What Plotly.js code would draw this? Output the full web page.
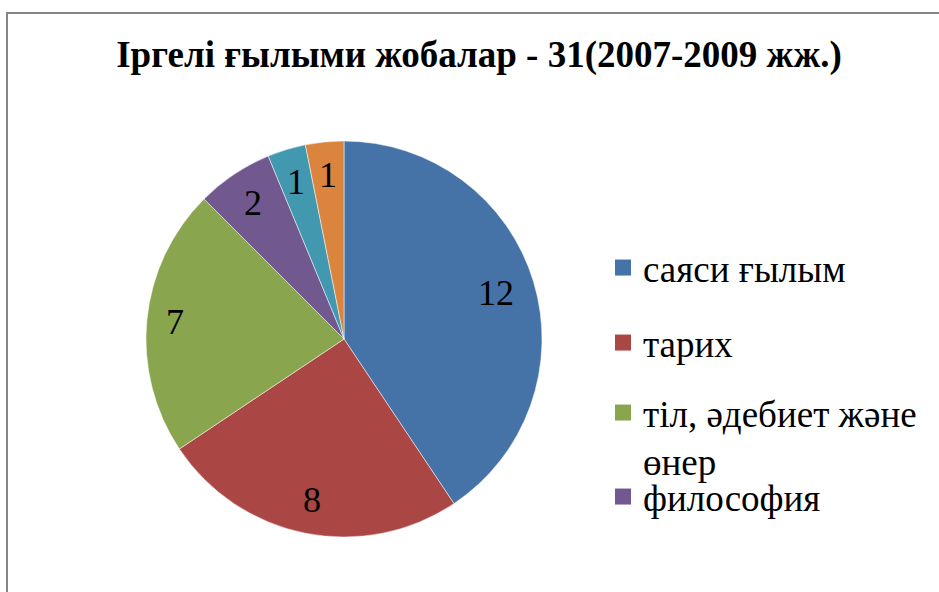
<!DOCTYPE html>
<html>
<head>
<meta charset="utf-8">
<script src="https://cdn.plot.ly/plotly-3.0.1.min.js"></script>
<style>html,body{margin:0;padding:0;background:#fff;}#chart{width:939px;height:592px;}</style>
</head>
<body>
<div id="chart"></div>
<script>
const categories = ["саяси ғылым", "тарих", "тіл, әдебиет және өнер", "философия", "экономика", "құқық"];
const legendLabels = ["саяси ғылым", "тарих", "тіл, әдебиет және<br>өнер", "философия"];
// slice sizes as drawn in the picture (the blue slice spans 13/32 of the circle)
const values = [13, 8, 7, 2, 1, 1];
// data-label texts as printed on the slices
const labelTexts = ["12", "8", "7", "2", "1", "1"];
const colors = ["#4572A7", "#AA4643", "#89A54E", "#71588F", "#4198AF", "#DB843D"];
const titleText = "Іргелі ғылыми жобалар - 31(2007-2009 жж.)";

const serif = "Liberation Serif";
const W = 939, H = 592;
// pie geometry (pixels)
const cx = 344, cy = 339, R = 198;
const labelSize = 36;

const pie = {
  type: "pie",
  labels: categories,
  values: values,
  sort: false,
  direction: "clockwise",
  rotation: 0,
  marker: {colors: colors, line: {color: "#ffffff", width: 0.5}},
  textinfo: "none",
  showlegend: false,
  hoverinfo: "label+value",
  domain: {x: [(cx - R) / W, (cx + R) / W], y: [(H - cy - R) / H, (H - cy + R) / H]}
};

const legendNames = ["legend", "legend2", "legend3", "legend4"];
const legendTraces = legendLabels.map((name, i) => ({
  type: "scatter",
  mode: "markers",
  x: [null], y: [null],
  name: name,
  legend: legendNames[i],
  marker: {symbol: "square", size: 18, color: colors[i]},
  showlegend: true,
  hoverinfo: "skip"
}));

// data labels placed near the inner edge of each slice, computed from the values
const total = values.reduce((a, b) => a + b, 0);
let cum = 0;
const labelAnnotations = values.map((v, i) => {
  const mid = (cum + v / 2) / total * 2 * Math.PI;
  cum += v;
  const ux = Math.sin(mid), uy = -Math.cos(mid);
  const txt = labelTexts[i];
  const bw = 0.5 * labelSize * txt.length, bh = 0.78 * labelSize;
  const d = R - 18 - (Math.abs(ux) * bw / 2 + Math.abs(uy) * bh / 2);
  return {
    xref: "paper", yref: "paper", x: cx / W, y: 1 - cy / H,
    xshift: ux * d, yshift: -uy * d,
    xanchor: "center", yanchor: "middle", showarrow: false,
    text: txt, font: {family: serif, size: labelSize, color: "#000"}
  };
});

const legendCommon = (y, extra) => Object.assign({
  x: 603 / W, xanchor: "left", y: 1 - y / H, yanchor: "middle",
  font: {family: serif, size: 37, color: "#000"},
  bgcolor: "rgba(0,0,0,0)", borderwidth: 0
}, extra || {});

const layout = {
  width: W, height: H,
  margin: {l: 0, r: 0, t: 0, b: 0},
  paper_bgcolor: "#fff",
  plot_bgcolor: "#fff",
  title: {
    text: "<b>" + titleText + "</b>",
    font: {family: serif, size: 37, color: "#000"},
    x: 479 / W, xanchor: "center", xref: "paper",
    y: 1 - 54 / H, yanchor: "middle", yref: "paper"
  },
  xaxis: {visible: false},
  yaxis: {visible: false},
  showlegend: true,
  legend: legendCommon(268),
  legend2: legendCommon(343),
  legend3: legendCommon(437, {valign: "top"}),
  legend4: legendCommon(497),
  annotations: labelAnnotations,
  shapes: [
    {type: "line", xref: "paper", yref: "paper", x0: 7 / W, x1: 7 / W, y0: 0, y1: 1 - 13 / H, line: {color: "#868686", width: 2}},
    {type: "line", xref: "paper", yref: "paper", x0: 6 / W, x1: 1, y0: 1 - 13 / H, y1: 1 - 13 / H, line: {color: "#868686", width: 2}}
  ]
};

Plotly.newPlot("chart", [pie].concat(legendTraces), layout, {displayModeBar: false, staticPlot: true});
</script>
</body>
</html>
